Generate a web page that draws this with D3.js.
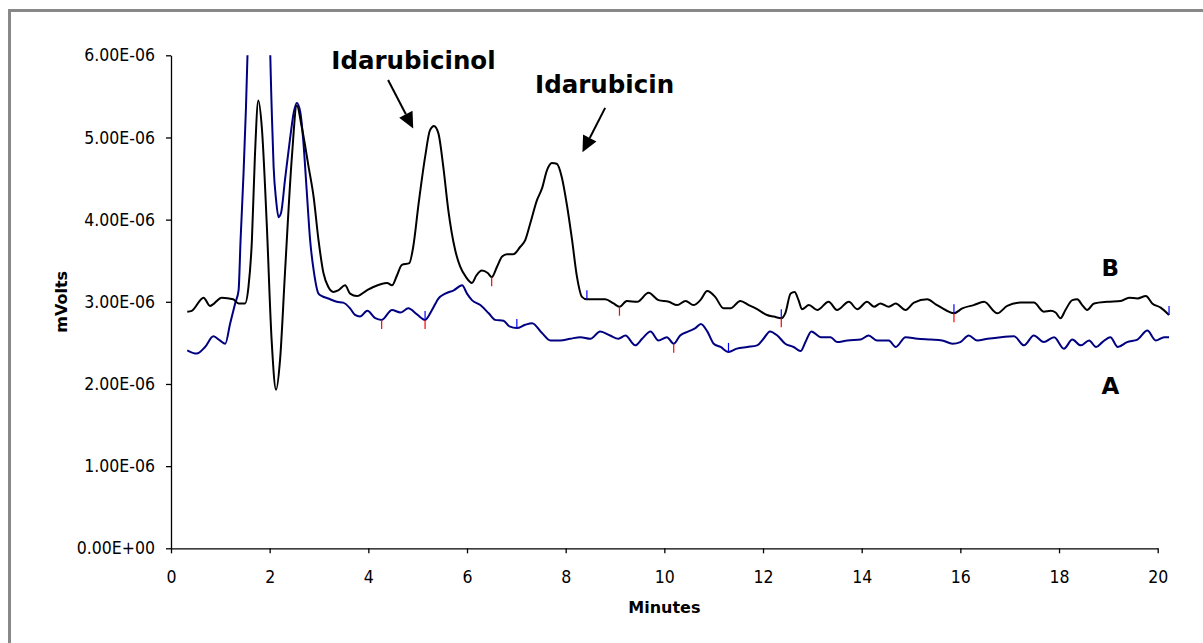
<!DOCTYPE html>
<html>
<head>
<meta charset="utf-8">
<script src="https://cdn.jsdelivr.net/npm/d3@7"></script>
<style>
  html, body { margin: 0; padding: 0; background: #fff; }
  svg { display: block; }
  .axis .tick text {
    font-family: "DejaVu Sans Condensed", "DejaVu Sans", sans-serif;
    font-stretch: condensed;
    font-size: 17.5px;
    fill: #000;
  }
  .axis path, .axis line { stroke: #000; stroke-width: 1.3; }
  .axis-title { font-family: "DejaVu Sans", sans-serif; font-weight: bold; font-size: 16px; fill: #000; }
  .note { font-family: "DejaVu Sans", sans-serif; font-weight: bold; fill: #000; }
</style>
</head>
<body>
<svg id="chart" width="1203" height="643"></svg>
<script>
// Chromatogram traces: retention time (minutes) and detector signal (units of 1E-06)
const UNIT = 1e-6;

// Trace B (spiked sample)
const minutesB = [0.33,0.42,0.66,0.79,1.03,1.26,1.37,1.50,1.57,1.64,1.70,1.77,1.84,1.94,2.04,2.13,2.21,2.31,2.45,2.55,2.65,2.79,2.89,2.99,3.09,3.19,3.29,3.39,3.53,3.63,3.77,3.97,4.10,4.38,4.48,4.58,4.68,4.83,4.91,5.02,5.15,5.25,5.33,5.42,5.52,5.62,5.76,5.86,5.98,6.10,6.19,6.30,6.42,6.50,6.61,6.71,6.81,6.94,7.08,7.18,7.28,7.42,7.52,7.62,7.72,7.82,7.92,8.03,8.13,8.23,8.33,8.43,8.63,8.80,8.97,9.09,9.24,9.45,9.68,9.88,10.09,10.26,10.43,10.59,10.73,10.87,11.03,11.20,11.34,11.54,11.71,11.88,12.08,12.22,12.37,12.45,12.56,12.64,12.72,12.79,12.93,13.10,13.33,13.50,13.74,13.91,14.11,14.25,14.38,14.55,14.69,14.89,15.06,15.33,15.50,15.70,15.87,16.04,16.27,16.48,16.75,16.95,17.22,17.49,17.69,17.83,17.93,18.03,18.13,18.27,18.37,18.47,18.57,18.71,18.98,19.25,19.42,19.59,19.76,19.89,20.06,20.23];
const signalB = [2.88,2.89,3.05,2.95,3.05,3.03,2.98,2.98,3.18,3.75,4.76,5.45,5.13,3.96,2.53,1.93,2.29,3.35,4.76,5.39,5.13,4.64,4.28,3.75,3.35,3.18,3.12,3.14,3.20,3.10,3.07,3.14,3.18,3.23,3.20,3.32,3.45,3.47,3.67,4.20,4.76,5.09,5.14,5.05,4.64,4.12,3.63,3.43,3.30,3.23,3.32,3.38,3.35,3.30,3.43,3.55,3.58,3.58,3.67,3.75,3.95,4.24,4.38,4.60,4.69,4.68,4.52,4.16,3.75,3.30,3.06,3.03,3.03,3.03,2.98,2.94,3.01,3.00,3.11,3.02,3.00,2.96,3.01,2.96,3.02,3.13,3.06,2.92,2.92,3.01,2.96,2.91,2.84,2.82,2.80,2.86,3.10,3.12,3.02,2.91,2.96,2.90,3.00,2.90,3.00,2.91,3.00,2.94,2.98,2.94,2.98,2.90,2.99,3.03,2.97,2.90,2.86,2.92,2.96,3.00,2.86,2.95,2.99,2.99,2.88,2.89,2.87,2.80,2.90,3.02,3.03,2.96,2.90,2.98,3.00,3.01,3.05,3.04,3.07,2.98,2.93,2.84];

// Trace A (blank); the solvent front runs off the top of the scale
const minutesA = [0.33,0.52,0.69,0.86,0.99,1.10,1.20,1.30,1.37,1.41,1.47,1.52,1.62,1.78,1.95,2.04,2.08,2.13,2.18,2.23,2.31,2.41,2.49,2.55,2.62,2.68,2.75,2.82,2.90,2.99,3.06,3.19,3.36,3.49,3.63,3.73,3.83,3.98,4.14,4.27,4.48,4.65,4.81,4.98,5.15,5.29,5.42,5.56,5.73,5.90,6.00,6.10,6.27,6.44,6.57,6.74,6.86,7.01,7.18,7.32,7.52,7.69,7.89,8.09,8.30,8.50,8.70,8.90,9.07,9.21,9.41,9.55,9.72,9.88,10.05,10.19,10.32,10.49,10.63,10.74,10.87,11.00,11.14,11.30,11.47,11.68,11.88,12.01,12.14,12.29,12.45,12.62,12.76,12.86,12.98,13.17,13.37,13.50,13.71,13.98,14.14,14.31,14.55,14.69,14.89,15.13,15.40,15.63,15.84,16.00,16.17,16.34,16.55,16.82,17.09,17.29,17.49,17.69,17.90,18.10,18.27,18.44,18.61,18.75,18.88,19.04,19.19,19.38,19.59,19.79,19.96,20.13,20.23];
const signalA = [2.41,2.37,2.45,2.58,2.53,2.49,2.74,2.98,3.14,3.75,4.56,5.37,7.40,8.60,7.40,5.37,4.64,4.24,4.03,4.08,4.48,4.97,5.31,5.42,5.31,4.97,4.36,3.75,3.35,3.10,3.07,3.04,3.00,2.99,2.92,2.84,2.82,2.89,2.80,2.78,2.90,2.87,2.92,2.85,2.78,2.90,3.04,3.10,3.14,3.20,3.10,3.02,2.96,2.86,2.78,2.77,2.70,2.68,2.72,2.74,2.62,2.53,2.53,2.55,2.57,2.55,2.64,2.59,2.55,2.59,2.47,2.55,2.64,2.53,2.57,2.49,2.59,2.64,2.68,2.73,2.64,2.49,2.45,2.39,2.43,2.45,2.47,2.55,2.64,2.59,2.49,2.45,2.40,2.51,2.64,2.57,2.57,2.51,2.53,2.54,2.59,2.53,2.53,2.45,2.57,2.55,2.54,2.53,2.49,2.51,2.59,2.53,2.55,2.57,2.58,2.47,2.59,2.51,2.57,2.43,2.54,2.47,2.53,2.45,2.51,2.57,2.45,2.51,2.54,2.65,2.53,2.57,2.57];

// Integration marks (minutes): red = peak start, blue = peak end
const marksRedA = [4.27, 5.15, 10.19];
const marksBlueA = [5.15, 7.01, 11.30];
const marksRedB = [6.50, 9.09, 12.37, 15.87];
const marksBlueB = [8.43, 12.37, 15.87, 20.23];

// Axis ticks
const xTicks = [0, 2, 4, 6, 8, 10, 12, 14, 16, 18, 20];
const yTicks = [0, 1, 2, 3, 4, 5, 6];

// Peak labels and trace labels (anchored in data coordinates)
const peakLabels = ["Idarubicinol", "Idarubicin"];
const peakLabelMinutes = [3.25, 7.38];
const peakLabelSignal = [5.83, 5.54];
const arrowTailMinutes = [4.40, 8.80];
const arrowTailSignal = [5.70, 5.36];
const arrowTipMinutes = [4.91, 8.34];
const arrowTipSignal = [5.11, 4.82];
const traceLabels = ["B", "A"];
const traceLabelMinutes = [18.86, 18.86];
const traceLabelSignal = [3.32, 1.88];

const svg = d3.select("#chart");

// Outer frame
svg.append("rect")
  .attr("x", 9.5).attr("y", 10.5)
  .attr("width", 1400).attr("height", 1000)
  .attr("fill", "none").attr("stroke", "#888").attr("stroke-width", 3);

const plot = { left: 171, top: 55.3, right: 1157.7, bottom: 548.3 };
const x = d3.scaleLinear().domain([0, 20]).range([plot.left, plot.right]);
const y = d3.scaleLinear().domain([0, 6 * UNIT]).range([plot.bottom, plot.top]);

function sci(v) {
  const [m, e] = v.toExponential(2).split("e");
  const n = parseInt(e, 10);
  return m + "E" + (n < 0 ? "-" : "+") + String(Math.abs(n)).padStart(2, "0");
}

// Axes
svg.append("g").attr("class", "axis")
  .attr("transform", `translate(${plot.left},0)`)
  .call(d3.axisLeft(y).tickValues(yTicks.map(v => v * UNIT)).tickSize(5).tickSizeOuter(0).tickPadding(11).tickFormat(sci));

svg.append("g").attr("class", "axis")
  .attr("transform", `translate(0,${plot.bottom})`)
  .call(d3.axisBottom(x).tickValues(xTicks).tickSize(5).tickSizeOuter(0).tickPadding(17).tickFormat(d3.format("d")));

svg.selectAll(".axis .tick text").attr("fill", "#000");

svg.append("text").attr("class", "axis-title")
  .attr("transform", `translate(67,${(plot.top + plot.bottom) / 2}) rotate(-90)`)
  .attr("text-anchor", "middle").text("mVolts");
svg.append("text").attr("class", "axis-title")
  .attr("x", (plot.left + plot.right) / 2).attr("y", 613)
  .attr("text-anchor", "middle").text("Minutes");

// Traces
svg.append("clipPath").attr("id", "plot-clip")
  .append("rect").attr("x", plot.left).attr("y", plot.top)
  .attr("width", plot.right - plot.left + 20).attr("height", plot.bottom - plot.top);

const toPoints = (mins, vals) => mins.map((m, i) => [m, vals[i] * UNIT]);
const ptsA = toPoints(minutesA, signalA);
const ptsB = toPoints(minutesB, signalB);

const line = d3.line().x(d => x(d[0])).y(d => y(d[1])).curve(d3.curveMonotoneX);
const traces = svg.append("g").attr("clip-path", "url(#plot-clip)");
traces.append("path").attr("d", line(ptsA))
  .attr("fill", "none").attr("stroke", "#000080").attr("stroke-width", 2).attr("stroke-linejoin", "round");
traces.append("path").attr("d", line(ptsB))
  .attr("fill", "none").attr("stroke", "#000").attr("stroke-width", 2).attr("stroke-linejoin", "round");

// Integration marks sit on the trace
function valueAt(pts, m) {
  const i = d3.bisector(d => d[0]).left(pts, m);
  if (i <= 0) return pts[0][1];
  if (i >= pts.length) return pts[pts.length - 1][1];
  const a = pts[i - 1], b = pts[i];
  const t = (m - a[0]) / (b[0] - a[0]);
  return a[1] + t * (b[1] - a[1]);
}
function drawMarks(pts, mins, color, dir) {
  svg.append("g").selectAll("line").data(mins).join("line")
    .attr("x1", m => x(m)).attr("x2", m => x(m))
    .attr("y1", m => y(valueAt(pts, m)))
    .attr("y2", m => y(valueAt(pts, m)) + dir * 9)
    .attr("stroke", color).attr("stroke-width", 1.2);
}
drawMarks(ptsA, marksRedA, "#ff0000", 1);
drawMarks(ptsA, marksBlueA, "#0000ff", -1);
drawMarks(ptsB, marksRedB, "#ff0000", 1);
drawMarks(ptsB, marksBlueB, "#0000ff", -1);

// Peak annotations with arrows
const notes = svg.append("g");
peakLabels.forEach((label, i) => {
  notes.append("text").attr("class", "note").attr("font-size", 24.5)
    .attr("x", x(peakLabelMinutes[i])).attr("y", y(peakLabelSignal[i] * UNIT)).text(label);
  const x0 = x(arrowTailMinutes[i]), y0 = y(arrowTailSignal[i] * UNIT);
  const x1 = x(arrowTipMinutes[i]), y1 = y(arrowTipSignal[i] * UNIT);
  const ang = Math.atan2(y1 - y0, x1 - x0);
  const len = 16, half = 7.5;
  const bx = x1 - len * Math.cos(ang), by = y1 - len * Math.sin(ang);
  notes.append("line").attr("x1", x0).attr("y1", y0).attr("x2", bx).attr("y2", by)
    .attr("stroke", "#000").attr("stroke-width", 2);
  notes.append("path")
    .attr("d", `M${x1},${y1}L${bx + half * Math.sin(ang)},${by - half * Math.cos(ang)}L${bx - half * Math.sin(ang)},${by + half * Math.cos(ang)}Z`)
    .attr("fill", "#000");
});
traceLabels.forEach((label, i) => {
  notes.append("text").attr("class", "note").attr("font-size", 23)
    .attr("x", x(traceLabelMinutes[i])).attr("y", y(traceLabelSignal[i] * UNIT)).text(label);
});
</script>
</body>
</html>
